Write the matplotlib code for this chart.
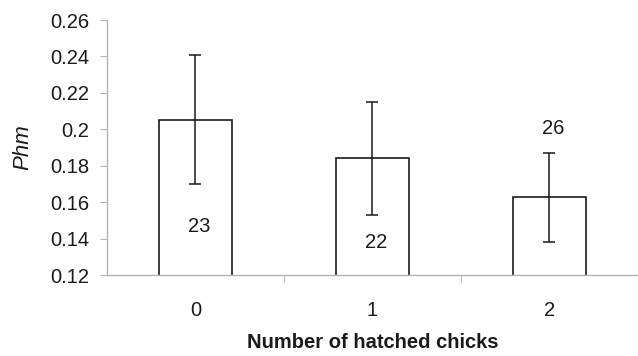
import matplotlib.pyplot as plt

plt.rcParams['font.family'] = ['Liberation Sans', 'DejaVu Sans']

# data
chicks = ['0', '1', '2']
phm = [0.205, 0.184, 0.163]
err_lo = [0.035, 0.031, 0.025]
err_hi = [0.036, 0.031, 0.024]
n_nests = ['23', '22', '26']
n_pos = [0.1464, 0.138, 0.2007]

fig = plt.figure(figsize=(6.38, 3.56), dpi=100)
ax = fig.add_axes([0.1677, 0.2275, 0.8323, 0.7163])

x = range(len(chicks))
ax.bar(x, phm, width=0.41, bottom=0, color='white', edgecolor='#1a1a1a',
       linewidth=1.2, zorder=2)
ax.errorbar(x, phm, yerr=[err_lo, err_hi], fmt='none', ecolor='#1a1a1a',
            elinewidth=1.1, capsize=4.5, capthick=1.1, zorder=3)
for i, lab in enumerate(n_nests):
    ax.text(i + 0.02, n_pos[i], lab, ha='center', va='center', fontsize=14.5,
            color='#1a1a1a', zorder=4)

ax.set_xlim(-0.5, 2.5)
ax.set_ylim(0.12, 0.26)
ax.set_yticks([0.12, 0.14, 0.16, 0.18, 0.2, 0.22, 0.24, 0.26])
ax.set_yticklabels(['0.12', '0.14', '0.16', '0.18', '0.2', '0.22', '0.24', '0.26'])
ax.set_xticks(list(x))
ax.set_xticklabels(chicks)
ax.set_xticks([0.5, 1.5], minor=True)

for s in ['top', 'right']:
    ax.spines[s].set_visible(False)
for s in ['left', 'bottom']:
    ax.spines[s].set_color('#b4b4b4')
    ax.spines[s].set_linewidth(1.0)

ax.tick_params(axis='y', length=5, color='#b4b4b4', labelsize=14.5,
               labelcolor='#1a1a1a', pad=8)
ax.tick_params(axis='x', which='major', length=0, labelsize=14.5,
               labelcolor='#1a1a1a', pad=19)
ax.tick_params(axis='x', which='minor', length=5, color='#b4b4b4')

ax.set_xlabel('Number of hatched chicks', fontsize=14.5, fontweight='bold',
              color='#1a1a1a', labelpad=9)
ax.set_ylabel('Phm', fontsize=16, fontstyle='italic', color='#1a1a1a',
              labelpad=12)

fig.savefig('out.png', dpi=100)
